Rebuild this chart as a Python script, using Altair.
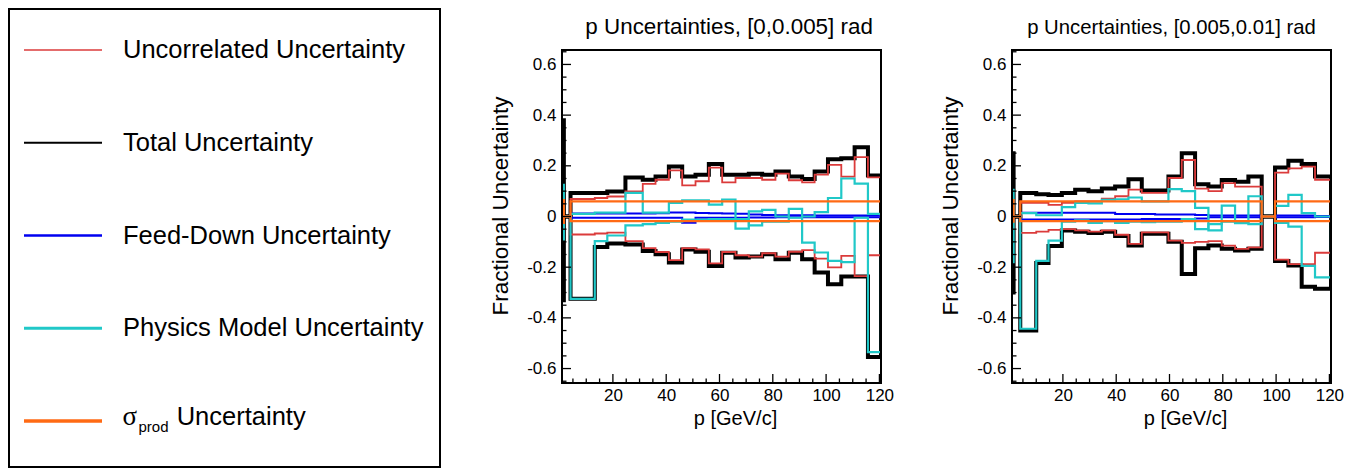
import altair as alt
import pandas as pd

FONT = "Liberation Sans"

X_DOMAIN = [0.9, 120.6]
Y_DOMAIN = [-0.657, 0.657]

X_MAJOR = [20, 40, 60, 80, 100, 120]
X_MINOR = [5, 10, 15, 25, 30, 35, 45, 50, 55, 65, 70, 75, 85, 90, 95, 105, 110, 115]
Y_MAJOR = [-0.6, -0.4, -0.2, 0.0, 0.2, 0.4, 0.6]
Y_MINOR = [-0.65, -0.55, -0.5, -0.45, -0.35, -0.3, -0.25, -0.15, -0.1, -0.05,
           0.05, 0.1, 0.15, 0.25, 0.3, 0.35, 0.45, 0.5, 0.55, 0.65]

LEGEND_KEYS = ["unc", "tot", "fd", "phys", "sig"]
LEGEND_LABELS = ["Uncorrelated Uncertainty", "Total Uncertainty", "Feed-Down Uncertainty",
                 "Physics Model Uncertainty", ""]

# ---------------- left panel: [0, 0.005] rad ----------------
LEFT_TITLE = "p Uncertainties, [0,0.005] rad"
LEFT_EDGES = [0.9, 1.6, 4.1, 13.2, 17.9, 24.7, 31.2, 36.0, 41.0, 46.0, 51.0, 56.0, 61.0,
              66.0, 71.0, 76.0, 81.0, 86.0, 91.0, 95.7, 100.7, 105.7, 110.7, 115.7, 120.6]
LEFT_TOT_UP = [0.38, 0.0, 0.093, 0.093, 0.099, 0.154, 0.145, 0.158, 0.197, 0.158, 0.165, 0.207,
               0.165, 0.165, 0.169, 0.165, 0.178, 0.158, 0.148, 0.178, 0.226, 0.230, 0.273, 0.162]
LEFT_TOT_DN = [-0.33, 0.0, -0.325, -0.120, -0.107, -0.110, -0.136, -0.149, -0.182, -0.130, -0.139,
               -0.195, -0.143, -0.162, -0.158, -0.149, -0.169, -0.143, -0.169, -0.221, -0.267,
               -0.237, -0.237, -0.554]
LEFT_UNC_UP = [0.05, 0.0, 0.069, 0.073, 0.079, 0.099, 0.129, 0.145, 0.182, 0.123, 0.139, 0.193,
               0.135, 0.152, 0.152, 0.145, 0.169, 0.143, 0.135, 0.165, 0.204, 0.157, 0.234, 0.154]
LEFT_UNC_DN = [-0.05, 0.0, -0.071, -0.067, -0.064, -0.097, -0.125, -0.140, -0.172, -0.125, -0.130,
               -0.185, -0.140, -0.153, -0.158, -0.145, -0.158, -0.139, -0.133, -0.166, -0.201,
               -0.155, -0.235, -0.153]
LEFT_PHY_A = [0.125, 0.0, 0.01, 0.015, 0.015, 0.093, 0.015, 0.015, 0.054, 0.064, 0.064, 0.047,
              0.067, -0.048, 0.02, 0.026, 0.0, 0.03, 0.0, 0.017, 0.073, 0.15, 0.13, 0.01]
LEFT_PHY_B = [-0.09, 0.0, -0.325, -0.097, -0.075, -0.035, -0.03, -0.025, -0.02, -0.012, -0.012,
              -0.01, -0.01, -0.01, -0.035, -0.02, -0.02, -0.005, -0.103, -0.142, -0.175, -0.18,
              -0.005, -0.535]
LEFT_FD_A = [0.01, 0.0, 0.012, 0.012, 0.012, 0.012, 0.012, 0.013, 0.016, 0.016, 0.014, 0.013,
             0.012, 0.011, 0.008, 0.006, 0.005, 0.005, 0.005, 0.004, 0.004, 0.004, 0.004, 0.004]
LEFT_FD_B = [-0.01, 0.0, -0.005, -0.005, -0.005, -0.005, -0.005, -0.005, -0.005, -0.025, -0.005,
             -0.005, -0.005, -0.005, -0.004, -0.004, -0.003, -0.003, -0.003, -0.003, -0.003,
             -0.003, -0.003, -0.003]
LEFT_SIG_UP = [0.065, 0.0, 0.06, 0.06, 0.06, 0.06, 0.06, 0.06, 0.06, 0.06, 0.06, 0.06, 0.06,
               0.06, 0.06, 0.06, 0.06, 0.06, 0.06, 0.06, 0.06, 0.06, 0.06, 0.06]
LEFT_SIG_DN = [-0.025, 0.0, -0.018, -0.018, -0.018, -0.018, -0.018, -0.018, -0.018, -0.018,
               -0.018, -0.018, -0.018, -0.018, -0.018, -0.018, -0.018, -0.018, -0.018, -0.018,
               -0.018, -0.018, -0.018, -0.018]

# ---------------- right panel: [0.005, 0.01] rad ----------------
RIGHT_TITLE = "p Uncertainties, [0.005,0.01] rad"
RIGHT_EDGES = [0.9, 1.5, 4.0, 10.0, 14.6, 19.6, 24.6, 29.6, 34.6, 39.6, 44.6, 49.6, 54.6, 59.6,
               64.6, 69.6, 74.6, 79.6, 84.6, 89.6, 94.6, 99.6, 104.6, 109.6, 114.6, 120.6]
RIGHT_TOT_UP = [0.25, 0.0, 0.093, 0.088, 0.085, 0.093, 0.106, 0.100, 0.110, 0.118, 0.147, 0.103,
                0.103, 0.158, 0.250, 0.127, 0.118, 0.144, 0.137, 0.158, 0.0, 0.193, 0.220, 0.207,
                0.158]
RIGHT_TOT_DN = [-0.30, 0.0, -0.45, -0.183, -0.116, -0.055, -0.060, -0.065, -0.060, -0.077, -0.114,
                -0.068, -0.068, -0.100, -0.227, -0.125, -0.114, -0.127, -0.134, -0.127, 0.0,
                -0.176, -0.193, -0.277, -0.285]
RIGHT_UNC_UP = [0.05, 0.0, 0.054, 0.054, 0.046, 0.054, 0.060, 0.060, 0.070, 0.080, 0.106, 0.093,
                0.093, 0.152, 0.223, 0.110, 0.100, 0.132, 0.118, 0.118, 0.0, 0.173, 0.190, 0.197,
                0.145]
RIGHT_UNC_DN = [-0.05, 0.0, -0.065, -0.060, -0.053, -0.050, -0.055, -0.060, -0.055, -0.072,
                -0.108, -0.063, -0.063, -0.095, -0.104, -0.100, -0.097, -0.115, -0.128, -0.122,
                0.0, -0.170, -0.188, -0.188, -0.143]
RIGHT_PHY_A = [0.105, 0.0, 0.013, 0.005, 0.005, 0.037, 0.054, 0.052, 0.066, 0.068, 0.075, 0.060,
               0.060, 0.108, 0.100, 0.034, -0.055, 0.043, -0.026, 0.080, 0.0, 0.042, 0.085, 0.013,
               0.0]
RIGHT_PHY_B = [-0.18, 0.0, -0.443, -0.175, -0.095, -0.02, -0.015, -0.025, -0.018, -0.025, -0.02,
               -0.022, -0.02, -0.02, -0.01, -0.05, -0.03, -0.02, -0.025, -0.03, 0.0, -0.025,
               -0.04, -0.195, -0.24]
RIGHT_FD_A = [0.01, 0.0, 0.015, 0.015, 0.015, 0.015, 0.015, 0.015, 0.015, 0.01, 0.01, 0.01,
              0.008, 0.008, 0.008, 0.006, 0.004, 0.004, 0.004, 0.004, 0.0, 0.004, 0.004, 0.004,
              0.002]
RIGHT_FD_B = [-0.01, 0.0, -0.012, -0.012, -0.012, -0.012, -0.012, -0.012, -0.012, -0.012, -0.012,
              -0.01, -0.01, -0.01, -0.01, -0.008, -0.003, -0.003, -0.003, -0.003, 0.0, -0.003,
              -0.003, -0.003, -0.002]
RIGHT_SIG_UP = [0.065, 0.0, 0.06, 0.06, 0.06, 0.06, 0.06, 0.06, 0.06, 0.06, 0.06, 0.06, 0.06,
                0.06, 0.06, 0.06, 0.06, 0.06, 0.06, 0.06, 0.0, 0.06, 0.06, 0.06, 0.06]
RIGHT_SIG_DN = [-0.02, 0.0, -0.018, -0.018, -0.018, -0.018, -0.018, -0.018, -0.018, -0.018,
                -0.018, -0.018, -0.018, -0.018, -0.018, -0.018, -0.018, -0.018, -0.018, -0.018,
                0.0, -0.018, -0.018, -0.018, -0.018]

# ---------------- styles ----------------
C_RED, C_BLACK, C_BLUE, C_CYAN, C_ORANGE = "#db3b3b", "#000000", "#0000f0", "#20c8c8", "#ff6a14"
PW, PH = 319, 333

xs = alt.Scale(domain=X_DOMAIN, nice=False, zero=False)
ys = alt.Scale(domain=Y_DOMAIN, nice=False, zero=False)

AX = alt.Axis(
    values=X_MAJOR, format="d", grid=False, ticks=False, tickSize=0, domain=False,
    labelFontSize=17, labelFont=FONT, labelPadding=4, labelColor="black", labelFlush=False,
    title="p [GeV/c]", titleFont=FONT, titleFontSize=20, titleFontWeight="normal",
    titleColor="black", titleX=173, titleY=35, titleAlign="center", titleBaseline="middle")
AY = alt.Axis(
    values=Y_MAJOR, grid=False, ticks=False, tickSize=0, domain=False, labelFlush=False,
    labelExpr="datum.value == 0 ? '0' : (datum.value < 0 ? '-' : '') + format(abs(datum.value), '.1f')",
    labelFontSize=17, labelFont=FONT, labelPadding=6, labelColor="black",
    title="Fractional Uncertainty", titleFont=FONT, titleFontSize=22.5,
    titleFontWeight="normal", titleColor="black", titleX=-62, titleY=155.5,
    titleAlign="center", titleBaseline="middle", titleAngle=270)


def step_frame(edges, lines):
    rows = []
    for name, vals in lines:
        px = [edges[0]]
        py = [0.0]
        for i, v in enumerate(vals):
            px += [edges[i], edges[i + 1]]
            py += [v, v]
        px.append(edges[-1])
        py.append(0.0)
        for k, (a, b) in enumerate(zip(px, py)):
            rows.append({"line": name, "k": k, "x": a, "y": b})
    return pd.DataFrame(rows)


def hist_layer(edges, lines, color, width):
    df = step_frame(edges, lines)
    return alt.Chart(df).mark_line(color=color, strokeWidth=width, clip=True,
                                   strokeJoin="miter", strokeCap="butt").encode(
        x=alt.X("x:Q", scale=xs, axis=AX),
        y=alt.Y("y:Q", scale=ys, axis=AY),
        detail="line:N",
        order="k:Q",
    )


def panel(edges, tot, unc, fd, phy, sig, title, tsize, tdx):
    frame_df = pd.DataFrame({"x": [X_DOMAIN[0]], "x2": [X_DOMAIN[1]],
                             "y": [Y_DOMAIN[0]], "y2": [Y_DOMAIN[1]]})
    frame = alt.Chart(frame_df).mark_rect(filled=False, stroke="black", strokeWidth=2).encode(
        x=alt.X("x:Q", scale=xs, axis=AX), x2="x2:Q",
        y=alt.Y("y:Q", scale=ys, axis=AY), y2="y2:Q")

    xmaj = alt.Chart(pd.DataFrame({"t": X_MAJOR})).mark_rule(color="black", strokeWidth=1.3).encode(
        x=alt.X("t:Q", scale=xs, axis=AX), y=alt.value(PH), y2=alt.value(PH - 9))
    xmin = alt.Chart(pd.DataFrame({"t": X_MINOR})).mark_rule(color="black", strokeWidth=1.3).encode(
        x=alt.X("t:Q", scale=xs, axis=AX), y=alt.value(PH), y2=alt.value(PH - 4.5))
    ymaj = alt.Chart(pd.DataFrame({"t": Y_MAJOR})).mark_rule(color="black", strokeWidth=1.3).encode(
        y=alt.Y("t:Q", scale=ys, axis=AY), x=alt.value(0), x2=alt.value(9))
    ymin = alt.Chart(pd.DataFrame({"t": Y_MINOR})).mark_rule(color="black", strokeWidth=1.3).encode(
        y=alt.Y("t:Q", scale=ys, axis=AY), x=alt.value(0), x2=alt.value(4.5))

    ttl = alt.Chart(pd.DataFrame({"t": [title]})).mark_text(
        align="center", baseline="alphabetic", font=FONT, fontSize=tsize, color="black").encode(
        x=alt.value(PW / 2 + tdx), y=alt.value(-16), text="t:N")

    layers = [
        hist_layer(edges, [("up", tot[0]), ("dn", tot[1])], C_BLACK, 4),
        hist_layer(edges, [("up", unc[0]), ("dn", unc[1])], C_RED, 1.8),
        hist_layer(edges, [("up", fd[0]), ("dn", fd[1])], C_BLUE, 2),
        hist_layer(edges, [("a", phy[0]), ("b", phy[1])], C_CYAN, 2.2),
        hist_layer(edges, [("up", sig[0]), ("dn", sig[1])], C_ORANGE, 2.2),
        xmaj, xmin, ymaj, ymin, frame, ttl,
    ]
    return alt.layer(*layers).properties(width=PW, height=PH)


left = panel(LEFT_EDGES, (LEFT_TOT_UP, LEFT_TOT_DN), (LEFT_UNC_UP, LEFT_UNC_DN),
             (LEFT_FD_A, LEFT_FD_B), (LEFT_PHY_A, LEFT_PHY_B), (LEFT_SIG_UP, LEFT_SIG_DN),
             LEFT_TITLE, 22.4, 7.6)
right = panel(RIGHT_EDGES, (RIGHT_TOT_UP, RIGHT_TOT_DN), (RIGHT_UNC_UP, RIGHT_UNC_DN),
              (RIGHT_FD_A, RIGHT_FD_B), (RIGHT_PHY_A, RIGHT_PHY_B), (RIGHT_SIG_UP, RIGHT_SIG_DN),
              RIGHT_TITLE, 20.3, 0)

# ---------------- legend ----------------
leg_df = pd.DataFrame({"key": LEGEND_KEYS, "label": LEGEND_LABELS})
ky = alt.Scale(type="point", domain=LEGEND_KEYS, range=[0, 371], padding=0)
box = alt.Chart(pd.DataFrame({"a": [0]})).mark_rect(filled=False, stroke="black", strokeWidth=2).encode(
    x=alt.value(0), x2=alt.value(431), y=alt.value(-41), y2=alt.value(417))
leg_lines = alt.Chart(leg_df).mark_rule().encode(
    x=alt.value(15), x2=alt.value(93),
    y=alt.Y("key:N", scale=ky, axis=None),
    color=alt.Color("key:N", scale=alt.Scale(domain=LEGEND_KEYS,
                                             range=[C_RED, C_BLACK, C_BLUE, C_CYAN, C_ORANGE]),
                    legend=None),
    strokeWidth=alt.StrokeWidth("key:N", scale=alt.Scale(domain=LEGEND_KEYS,
                                                         range=[1.5, 3.5, 2, 2, 2]), legend=None),
)
leg_text = alt.Chart(leg_df).mark_text(align="left", baseline="middle", fontSize=25.5, font=FONT,
                                       color="black", dy=0).encode(
    x=alt.value(114), y=alt.Y("key:N", scale=ky, axis=None), text="label:N")
sig_df = pd.DataFrame({"key": ["sig"]})
sig1 = alt.Chart(sig_df).mark_text(text="σ", align="left", baseline="alphabetic", fontSize=27,
                                   font="Liberation Serif", color="black", dy=4).encode(
    x=alt.value(113.5), y=alt.Y("key:N", scale=ky, axis=None))
sig2 = alt.Chart(sig_df).mark_text(text="prod", align="left", baseline="alphabetic", fontSize=15,
                                   font=FONT, color="black", dy=11).encode(
    x=alt.value(129.5), y=alt.Y("key:N", scale=ky, axis=None))
sig3 = alt.Chart(sig_df).mark_text(text="Uncertainty", align="left", baseline="alphabetic",
                                   fontSize=25.5, font=FONT, color="black", dy=4).encode(
    x=alt.value(167.7), y=alt.Y("key:N", scale=ky, axis=None))
legend = alt.layer(box, leg_lines, leg_text, sig1, sig2, sig3).properties(width=422, height=PH)

chart = alt.hconcat(legend, left, right, spacing=131, bounds="flush").properties(
    padding=0, background="white"
).configure_view(strokeOpacity=0)

chart.save("out.html", embed_options={"renderer": "svg", "actions": False})
